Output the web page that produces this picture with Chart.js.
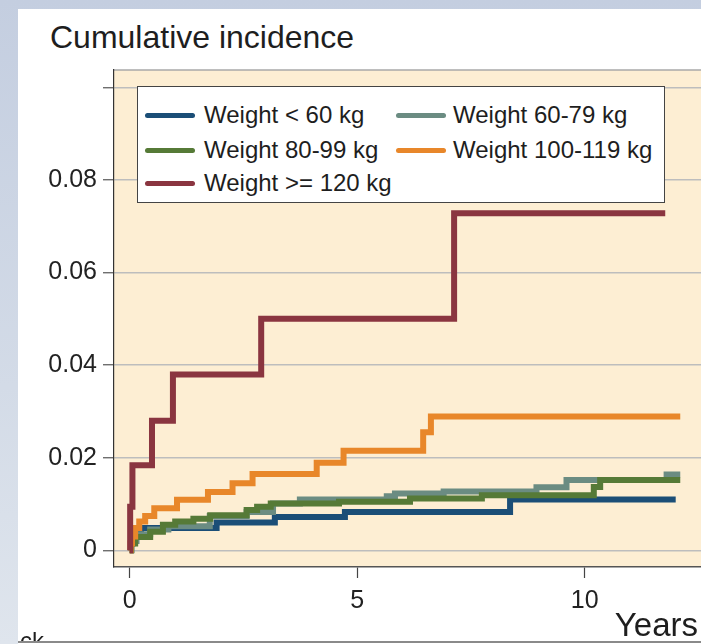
<!DOCTYPE html>
<html>
<head>
<meta charset="utf-8">
<script src="https://cdn.jsdelivr.net/npm/chart.js@4.4.0/dist/chart.umd.min.js"></script>
<style>
  html, body { margin: 0; padding: 0; }
  body {
    width: 701px; height: 644px; overflow: hidden; position: relative;
    background: linear-gradient(180deg, #c4cee0 0%, #d3dbe7 60%, #dfe5ed 100%);
    font-family: "Liberation Sans", Arial, sans-serif;
  }
  #panel { position: absolute; left: 18px; top: 9px; right: 0; bottom: 0; background: #fff; }
  #chart { position: absolute; left: 0; top: 0; }
  #title { position: absolute; left: 50px; top: 21px; font-size: 32px; line-height: 32px; color: #1e1e1e; white-space: nowrap; }
  #years { position: absolute; right: 3px; top: 608px; font-size: 33px; line-height: 33px; color: #1e1e1e; }
  #ck { position: absolute; left: 20px; top: 629px; height: 12px; overflow: hidden; font-size: 24px; line-height: 24px; color: #1e1e1e; }
  #bottomline { position: absolute; left: 18px; right: 0; top: 641px; height: 2px; background: #8a8a8a; }
  #legend {
    position: absolute; left: 137px; top: 86px; width: 528px; height: 117px;
    box-sizing: border-box; background: #fff; border: 1.5px solid #444;
  }
  .item { position: absolute; font-size: 24px; line-height: 24px; color: #1e1e1e; white-space: nowrap; }
  .swatch { position: absolute; height: 5px; border-radius: 3px; }
</style>
</head>
<body>
<div id="panel"></div>
<div id="title">Cumulative incidence</div>
<canvas id="chart" width="701" height="644"></canvas>
<div id="legend"></div>
<div id="years">Years</div>
<div id="ck">ck</div>
<div id="bottomline"></div>
<script>
// cumulative incidence by weight group
var groups = ['Weight < 60 kg', 'Weight 60-79 kg', 'Weight 80-99 kg', 'Weight 100-119 kg', 'Weight >= 120 kg'];

var timeLt60 = [0, 0.03, 0.06, 0.12, 0.25, 1.91, 3.19, 4.73, 8.36, 12.0];
var incLt60  = [0, 0.0015, 0.003, 0.004, 0.0048, 0.006, 0.0072, 0.0083, 0.011, 0.011];

var time60to79 = [0, 0.04, 0.15, 0.45, 0.85, 1.76, 2.57, 3.15, 3.74, 5.65, 5.83, 6.9, 8.94, 9.6, 11.8, 12.1];
var inc60to79  = [0, 0.002, 0.0035, 0.0045, 0.0052, 0.0074, 0.0083, 0.0101, 0.011, 0.0117, 0.0123, 0.0127, 0.0136, 0.0152, 0.0164, 0.0164];

var time80to99 = [0, 0.03, 0.12, 0.45, 0.73, 1.0, 1.4, 1.77, 2.57, 2.8, 3.1, 4.6, 6.16, 7.74, 10.2, 10.34, 12.1];
var inc80to99  = [0, 0.0015, 0.0029, 0.004, 0.0055, 0.0062, 0.0068, 0.0076, 0.0087, 0.0094, 0.0101, 0.0105, 0.0112, 0.0119, 0.0137, 0.0152, 0.0152];

var time100to119 = [0, 0.02, 0.05, 0.12, 0.21, 0.34, 0.54, 1.04, 1.72, 2.26, 2.70, 4.11, 4.7, 6.45, 6.62, 12.1];
var inc100to119  = [0, 0.0015, 0.003, 0.0048, 0.0062, 0.0074, 0.0091, 0.0109, 0.0126, 0.0145, 0.0165, 0.0189, 0.0215, 0.0255, 0.0289, 0.0289];

var time120 = [0, 0.01, 0.06, 0.49, 0.95, 2.89, 7.13, 11.77];
var inc120  = [0, 0.0094, 0.0184, 0.028, 0.038, 0.050, 0.0728, 0.0728];

var xTicks = [0, 5, 10];
var yTicks = [0, 0.02, 0.04, 0.06, 0.08, 0.1];

var colors = ['#1b4e77', '#6b8c82', '#567a37', '#e8872a', '#8a3540'];

function pts(t, v) {
    return t.map(function (x, i) { return {x: x, y: v[i]}; });
}

var series = [
    pts(timeLt60, incLt60),
    pts(time60to79, inc60to79),
    pts(time80to99, inc80to99),
    pts(time100to119, inc100to119),
    pts(time120, inc120)
];

// plot area background + top border
var plotBg = {
    id: 'plotBg',
    beforeDraw: function (chart) {
        var a = chart.chartArea, c = chart.ctx;
        c.save();
        c.fillStyle = '#fdeed3';
        c.fillRect(a.left, a.top, a.right - a.left, a.bottom - a.top);
        c.strokeStyle = '#a8a8a8';
        c.lineWidth = 1.5;
        c.beginPath();
        c.moveTo(a.left, a.top);
        c.lineTo(a.right, a.top);
        c.stroke();
        c.restore();
    }
};

var tickFont = {family: 'Liberation Sans', size: 25};

var ctx = document.getElementById('chart').getContext('2d');
var chart = new Chart(ctx, {
    type: 'line',
    data: {
        datasets: series.map(function (s, i) {
            return {
                label: groups[i],
                data: s,
                stepped: 'before',
                borderColor: colors[i],
                borderWidth: 6,
                pointRadius: 0,
                fill: false,
                borderCapStyle: 'butt',
                order: 5 - i
            };
        })
    },
    options: {
        responsive: false,
        animation: false,
        devicePixelRatio: 1,
        layout: { padding: {left: 0, top: 70, right: 0, bottom: 27} },
        plugins: {
            legend: { display: false },
            tooltip: { enabled: false }
        },
        scales: {
            x: {
                type: 'linear',
                min: -0.345,
                max: 12.556,
                afterBuildTicks: function (s) { s.ticks = xTicks.map(function (v) { return {value: v}; }); },
                afterFit: function (s) { s.height = 50; },
                grid: { drawOnChartArea: false, tickLength: 11, tickColor: '#444', tickWidth: 1.2 },
                border: { color: '#555', width: 1.5 },
                ticks: { font: tickFont, color: '#222', padding: 8, maxRotation: 0,
                         callback: function (v) { return String(v); } }
            },
            y: {
                min: -0.0036,
                max: 0.10374,
                afterBuildTicks: function (s) { s.ticks = yTicks.map(function (v) { return {value: v}; }); },
                afterFit: function (s) { s.width = 114; },
                grid: { color: '#bdbdbd', lineWidth: 1.5, tickLength: 11, tickColor: '#555', tickWidth: 1.2 },
                border: { color: '#333', width: 1.2 },
                ticks: { font: tickFont, color: '#222', padding: 6,
                         callback: function (v) { return v === 0.1 ? '' : (v === 0 ? '0' : v.toFixed(2)); } }
            }
        }
    },
    plugins: [plotBg]
});

// legend box drawn in html, two columns
var legend = document.getElementById('legend');
var slots = [[0, 0], [1, 0], [0, 1], [1, 1], [0, 2]];
var colX = [7, 258], textX = [66, 315], rowY = [29, 64, 97];
groups.forEach(function (g, i) {
    var c = slots[i][0], r = slots[i][1];
    var sw = document.createElement('div');
    sw.className = 'swatch';
    sw.style.left = colX[c] + 'px';
    sw.style.width = '50px';
    sw.style.top = (rowY[r] - 3) + 'px';
    sw.style.background = colors[i];
    legend.appendChild(sw);
    var t = document.createElement('div');
    t.className = 'item';
    t.style.left = textX[c] + 'px';
    t.style.top = (rowY[r] - 13) + 'px';
    t.textContent = g;
    legend.appendChild(t);
});
</script>
</body>
</html>
